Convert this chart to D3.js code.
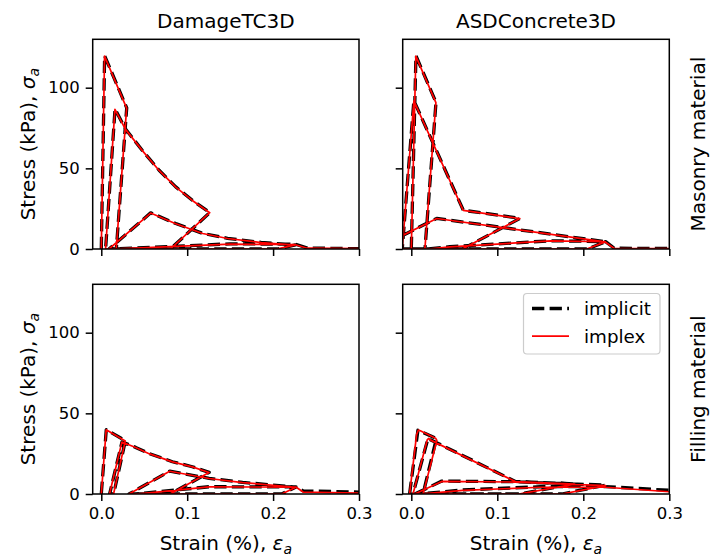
<!DOCTYPE html>
<html><head><meta charset="utf-8">
<script src="https://cdn.jsdelivr.net/npm/d3@7"></script>
<style>
body{margin:0;background:#fff}
text{font-family:"DejaVu Sans",sans-serif;fill:#000}
</style>
</head><body>
<svg id="c" width="711" height="560"></svg>
<script>
// ---------- data ----------
const columnTitles = ["DamageTC3D", "ASDConcrete3D"];
const rowTitles = ["Masonry material", "Filling material"];
const seriesNames = ["implicit", "implex"];
const xTicks = [0.0, 0.1, 0.2, 0.3];
const yTicks = [0, 50, 100];
const xLimits = [-0.01, 0.3];
const yLimits = [0, 130];

// [strain %, stress kPa]
const damageMasonryImplicit = [[0,0],[0.0039,119.8],[0.0296,87.5],[0.0175,0],[0.005,0],[0.016,86.8],[0.028,74.5],[0.0478,61.1],[0.0673,48.8],[0.0867,38.5],[0.106,30.2],[0.1264,22.6],[0.0805,0],[0.009,0],[0.0575,22.4],[0.0867,15.8],[0.118,9.7],[0.147,6.6],[0.186,4.1],[0.226,2.5],[0.205,0],[0.012,0],[0.08,1.6],[0.15,3.2],[0.226,3.0],[0.24,0.6],[0.3,0.2]];
const damageMasonryImplex = [[0,0],[0.0038,119.6],[0.0295,87.3],[0.0174,0],[0.005,0],[0.0159,86.6],[0.028,74.3],[0.0478,61.0],[0.0673,48.7],[0.0867,38.4],[0.106,30.1],[0.1262,22.5],[0.0804,0],[0.009,0],[0.0574,22.3],[0.0867,15.7],[0.118,9.6],[0.147,6.5],[0.186,4.0],[0.225,2.4],[0.204,0],[0.012,0],[0.08,1.5],[0.15,3.0],[0.225,2.8],[0.24,0.5],[0.3,0.2]];

const asdMasonryImplicit = [[0,0],[0.0054,119.8],[0.0287,90.9],[0.0159,0],[-0.012,0],[-0.012,-10],[0.003,92],[0.0605,24],[0.1265,19],[0.0594,0],[-0.012,0],[-0.012,7.9],[0.0296,19],[0.2259,4.5],[0.205,0],[0.02,0],[0.0448,1.4],[0.162,5.1],[0.226,4.6],[0.236,0.5],[0.3,0.3]];
const asdMasonryImplex = [[0,0],[0.0053,119.6],[0.0286,90.7],[0.0158,0],[-0.012,0],[-0.012,-10],[0.003,91.8],[0.0604,23.9],[0.1262,18.9],[0.0593,0],[-0.012,0],[-0.012,7.9],[0.0296,18.9],[0.2255,4.4],[0.204,0],[0.02,0],[0.0448,1.3],[0.162,5.0],[0.225,4.5],[0.236,0.4],[0.3,0.3]];

const damageFillingImplicit = [[0,0],[0.0058,39.9],[0.028,33.0],[0.0144,0],[0.0097,0],[0.0241,32.3],[0.04,28.9],[0.0556,25.1],[0.0828,20.0],[0.106,16.9],[0.1256,13.4],[0.0802,0],[0.0323,0],[0.0797,14.2],[0.1256,9.7],[0.1645,7.2],[0.2267,4.3],[0.21,0],[0.04,0],[0.0557,0.8],[0.1256,4.5],[0.2267,4.4],[0.235,1.9],[0.3,1.2]];
const damageFillingImplex = [[0,0],[0.0057,39.8],[0.0279,32.9],[0.0143,0],[0.0096,0],[0.024,32.2],[0.04,28.8],[0.0556,25.0],[0.0828,19.9],[0.106,16.8],[0.1254,13.3],[0.0801,0],[0.0322,0],[0.0796,14.1],[0.1256,9.6],[0.1645,7.1],[0.2265,4.2],[0.21,0],[0.04,0],[0.0557,0.7],[0.1256,4.4],[0.2265,4.3],[0.235,1.2],[0.3,0.6]];

const asdFillingImplicit = [[-0.002,0],[0.0077,39.5],[0.0292,34.4],[0.0136,0],[0.0019,0],[0.0194,34.4],[0.121,7.8],[0.19,6.3],[0.125,0],[0.004,0],[0.0354,8.0],[0.121,7.6],[0.226,5.5],[0.175,0],[0.01,0],[0.06,2.5],[0.15,4.5],[0.226,4.6],[0.3,2.3]];
const asdFillingImplex = [[-0.002,0],[0.0062,37.0],[0.0082,39.6],[0.0105,39.2],[0.0282,34.6],[0.0297,33.2],[0.0137,0],[0.002,0],[0.0185,33.5],[0.0203,34.5],[0.0225,33.4],[0.121,7.7],[0.19,6.1],[0.125,0],[0.004,0],[0.0354,7.8],[0.121,7.4],[0.226,5.2],[0.175,0],[0.01,0],[0.06,2.2],[0.15,4.2],[0.226,4.2],[0.3,1.4]];

// ---------- layout ----------
const colLeft = [92.7, 402.7], colRight = [359, 669.3];
const rowTop = [39.3, 284.3], rowBottom = [249, 494];
const FS_TICK = 16.5, FS_LABEL = 20, FS_TITLE = 20, FS_LEG = 18.3;
const TICK = 7, PAD = 6;

const panels = [
  {r:0,c:0,imp:damageMasonryImplicit,ipx:damageMasonryImplex},
  {r:0,c:1,imp:asdMasonryImplicit,ipx:asdMasonryImplex},
  {r:1,c:0,imp:damageFillingImplicit,ipx:damageFillingImplex},
  {r:1,c:1,imp:asdFillingImplicit,ipx:asdFillingImplex}
];

const svg = d3.select("#c");
const defs = svg.append("defs");

panels.forEach((p,i)=>{
  const x = d3.scaleLinear().domain(xLimits).range([colLeft[p.c], colRight[p.c]]);
  const y = d3.scaleLinear().domain(yLimits).range([rowBottom[p.r], rowTop[p.r]]);
  defs.append("clipPath").attr("id","clip"+i).append("rect")
    .attr("x",x.range()[0]).attr("y",y.range()[1])
    .attr("width",x.range()[1]-x.range()[0]).attr("height",y.range()[0]-y.range()[1]);
  const line = d3.line().x(d=>x(d[0])).y(d=>y(d[1]));
  const g = svg.append("g").attr("clip-path","url(#clip"+i+")");
  g.append("path").attr("d",line(p.imp)).attr("fill","none").attr("stroke","#000")
    .attr("stroke-width",3.3).attr("stroke-dasharray","12.3,5.3").attr("stroke-linejoin","round");
  g.append("path").attr("d",line(p.ipx)).attr("fill","none").attr("stroke","#ff0000")
    .attr("stroke-width",1.7).attr("stroke-linejoin","round");

  // axes
  const xa = d3.axisBottom(x).tickValues(xTicks).tickSize(TICK).tickPadding(PAD)
    .tickFormat(p.r===1 ? d3.format(".1f") : "");
  const ya = d3.axisLeft(y).tickValues(yTicks).tickSize(TICK).tickPadding(PAD)
    .tickFormat(p.c===0 ? d3.format("d") : "");
  const gx = svg.append("g").attr("transform",`translate(0,${y.range()[0]})`).call(xa);
  const gy = svg.append("g").attr("transform",`translate(${x.range()[0]},0)`).call(ya);
  [gx,gy].forEach(a=>{
    a.select(".domain").remove();
    a.selectAll(".tick line").attr("stroke","#000").attr("stroke-width",1.5);
    a.selectAll(".tick text").attr("font-size",FS_TICK).attr("font-family","DejaVu Sans").attr("fill","#000");
  });
  svg.append("rect").attr("x",x.range()[0]).attr("y",y.range()[1])
    .attr("width",x.range()[1]-x.range()[0]).attr("height",y.range()[0]-y.range()[1])
    .attr("fill","none").attr("stroke","#000").attr("stroke-width",1.5);

  const cx = (x.range()[0]+x.range()[1])/2, cy = (y.range()[0]+y.range()[1])/2;
  if(p.r===0){
    svg.append("text").attr("x",cx).attr("y",27.5).attr("text-anchor","middle")
      .attr("font-size",FS_TITLE).text(columnTitles[p.c]);
  }
  if(p.r===1){
    const t = svg.append("text").attr("x",cx).attr("y",550).attr("text-anchor","middle").attr("font-size",FS_LABEL);
    t.append("tspan").text("Strain (%), ");
    t.append("tspan").attr("font-style","italic").text("ε");
    t.append("tspan").attr("font-style","italic").attr("font-size",FS_LABEL*0.7).attr("dy",4).text("a");
  }
  if(p.c===0){
    const t = svg.append("text").attr("transform",`translate(35,${cy}) rotate(-90)`)
      .attr("text-anchor","middle").attr("font-size",FS_LABEL);
    t.append("tspan").text("Stress (kPa), ");
    t.append("tspan").attr("font-style","italic").text("σ");
    t.append("tspan").attr("font-style","italic").attr("font-size",FS_LABEL*0.7).attr("dy",4).text("a");
  }
  if(p.c===1){
    svg.append("text").attr("transform",`translate(705,${cy}) rotate(-90)`)
      .attr("text-anchor","middle").attr("font-size",FS_LABEL).text(rowTitles[p.r]);
  }
});

// legend
const lg = svg.append("g");
lg.append("rect").attr("x",523.5).attr("y",293.5).attr("width",136.5).attr("height",60.5)
  .attr("rx",3.5).attr("fill","#fff").attr("fill-opacity",0.8).attr("stroke","#cccccc").attr("stroke-width",1.2);
const legendStyles = [{stroke:"#000",w:3.3,dash:"12.3,5.3"},{stroke:"#ff0000",w:1.7,dash:null}];
seriesNames.forEach((n,i)=>{
  const yy = 308.5 + i*27.7;
  lg.append("line").attr("x1",532).attr("x2",569).attr("y1",yy).attr("y2",yy)
    .attr("stroke",legendStyles[i].stroke).attr("stroke-width",legendStyles[i].w)
    .attr("stroke-dasharray",legendStyles[i].dash);
  lg.append("text").attr("x",584).attr("y",yy+6.5).attr("font-size",FS_LEG).text(n);
});
</script>
</body></html>
